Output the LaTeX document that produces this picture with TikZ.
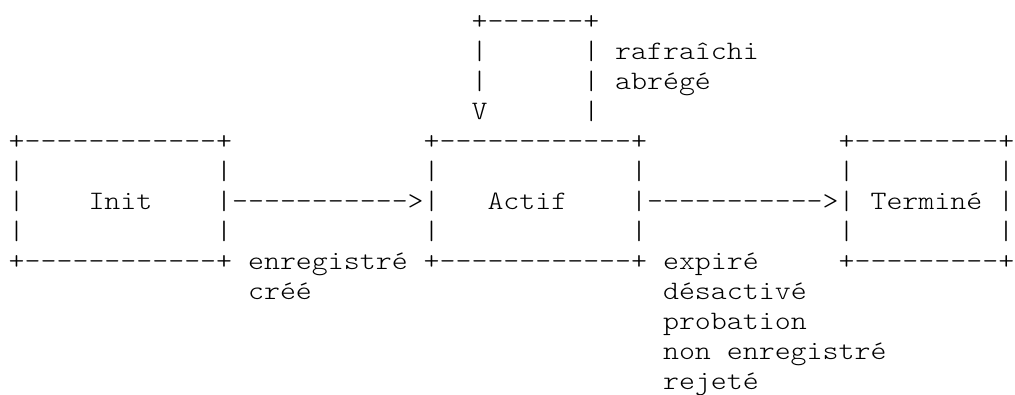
\documentclass[tikz,border=0pt]{standalone}
\usepackage{fontspec}
\setmonofont[FakeStretch=1.143]{Latin Modern Mono Light}
\tikzset{
  ascii/.style={anchor=base west, inner sep=0pt, outer sep=0pt,
    font=\ttfamily\fontsize{26.6pt}{30pt}\selectfont, text=black},
}
\begin{document}
\begin{tikzpicture}
\useasboundingbox (0pt,0pt) rectangle (1015pt,-394pt);
% character grid: one unit = one column / one text row
\begin{scope}[x=15.96pt, y=-30pt, shift={(8.7pt,-29.4pt)}]
  % self loop above the Actif box
  \node[ascii] (loopTop)   at (29,0) {+------+};
  \node[ascii] (loopL1)    at (29,1) {|};
  \node[ascii] (loopR1)    at (36,1) {|};
  \node[ascii] (lblRaf)    at (38,1) {rafraîchi};
  \node[ascii] (loopL2)    at (29,2) {|};
  \node[ascii] (loopR2)    at (36,2) {|};
  \node[ascii] (lblAbr)    at (38,2) {abrégé};
  \node[ascii] (loopHead)  at (29,3) {V};
  \node[ascii] (loopR3)    at (36,3) {|};
  % top borders
  \node[ascii] (initTop)   at (0,4)  {+------------+};
  \node[ascii] (actifTop)  at (26,4) {+------------+};
  \node[ascii] (termTop)   at (52,4) {+---------+};
  % side walls above and below the state names
  \foreach \c/\n in {0/a,13/b,26/c,39/d,52/e,62/f}{
    \node[ascii] (wallU\n) at (\c,5) {|};
    \node[ascii] (wallD\n) at (\c,7) {|};
  }
  % middle row: states and transitions
  \node[ascii] (initL)     at (0,6)  {|};
  \node[ascii] (init)      at (5,6)  {Init};
  \node[ascii] (arrowA)    at (13,6) {|----------->|};
  \node[ascii] (actif)     at (30,6) {Actif};
  \node[ascii] (arrowB)    at (39,6) {|----------->|};
  \node[ascii] (termine)   at (54,6) {Terminé};
  \node[ascii] (termR)     at (62,6) {|};
  % bottom borders and transition labels
  \node[ascii] (initBot)   at (0,8)  {+------------+};
  \node[ascii] (lblEnr)    at (15,8) {enregistré};
  \node[ascii] (actifBot)  at (26,8) {+------------+};
  \node[ascii] (lblExp)    at (41,8) {expiré};
  \node[ascii] (termBot)   at (52,8) {+---------+};
  \node[ascii] (lblCree)   at (15,9) {créé};
  \node[ascii] (lblDes)    at (41,9) {désactivé};
  \node[ascii] (lblProb)   at (41,10) {probation};
  \node[ascii] (lblNon)    at (41,11) {non enregistré};
  \node[ascii] (lblRej)    at (41,12) {rejeté};
\end{scope}
\end{tikzpicture}
\end{document}
